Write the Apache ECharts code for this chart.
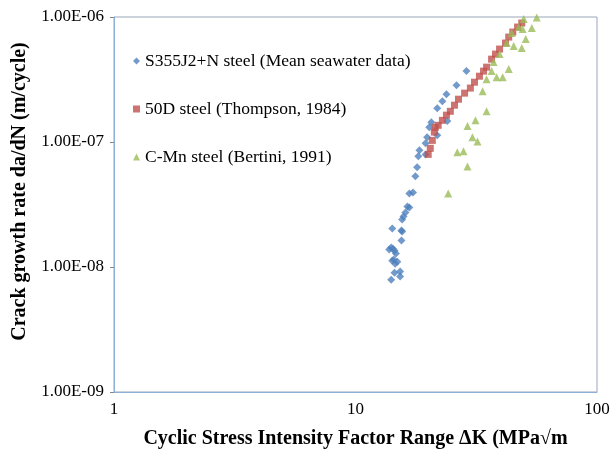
<!DOCTYPE html>
<html><head><meta charset="utf-8">
<script src="https://cdn.jsdelivr.net/npm/echarts@6/dist/echarts.min.js"></script>
<style>html,body{margin:0;padding:0;background:#fff}#c{width:612px;height:449px}</style>
</head><body><div id="c"></div>
<script>
const seriesNames = ['S355J2+N steel (Mean seawater data)', '50D steel (Thompson, 1984)', 'C-Mn steel (Bertini, 1991)'];
const s355 = [[28.8,3.69e-7],[26.2,2.85e-7],[23.8,2.41e-7],[22.9,2.12e-7],[21.8,1.86e-7],[20.6,1.44e-7],[24.0,1.47e-7],[20.2,1.31e-7],[19.8,1.09e-7],[21.8,1.13e-7],[19.5,9.76e-8],[18.4,8.58e-8],[18.2,7.68e-8],[19.5,7.96e-8],[18.0,6.27e-8],[17.7,5.31e-8],[16.7,3.88e-8],[17.3,3.95e-8],[16.4,3.05e-8],[16.7,2.99e-8],[16.1,2.73e-8],[15.8,2.54e-8],[15.6,2.40e-8],[14.2,2.03e-8],[15.5,1.96e-8],[15.6,1.92e-8],[15.5,1.63e-8],[14.05,1.43e-8],[13.8,1.38e-8],[14.5,1.35e-8],[14.7,1.28e-8],[14.2,1.12e-8],[14.9,1.10e-8],[14.6,1.06e-8],[14.4,1.15e-8],[14.3,1.40e-8],[14.5,9.0e-9],[15.3,9.2e-9],[15.3,8.4e-9],[14.05,7.9e-9]];
const d50 = [[20.0,7.96e-8],[20.4,8.90e-8],[20.8,1.03e-7],[21.2,1.20e-7],[21.4,1.31e-7],[22.0,1.36e-7],[22.9,1.49e-7],[23.8,1.64e-7],[24.7,1.76e-7],[25.7,1.97e-7],[26.7,2.20e-7],[28.3,2.46e-7],[29.9,2.70e-7],[31.1,3.01e-7],[32.6,3.36e-7],[33.9,3.69e-7],[34.9,3.97e-7],[36.6,4.60e-7],[38.0,5.05e-7],[39.5,5.54e-7],[41.8,6.19e-7],[43.1,6.91e-7],[44.8,7.58e-7],[46.9,8.31e-7],[48.8,8.95e-7]];
const cmn = [[56.3,9.9e-7],[49.7,9.64e-7],[47.4,8.31e-7],[49.2,8.01e-7],[53.7,8.16e-7],[44.3,7.44e-7],[50.7,6.66e-7],[42.3,6.19e-7],[45.2,5.85e-7],[48.8,5.64e-7],[39.5,5.05e-7],[37.3,4.36e-7],[43.1,3.83e-7],[36.6,3.69e-7],[38.4,3.30e-7],[40.7,3.30e-7],[34.9,3.18e-7],[33.6,2.55e-7],[34.9,1.76e-7],[31.4,1.49e-7],[29.1,1.34e-7],[30.5,1.09e-7],[32.0,1.01e-7],[26.4,8.27e-8],[28.0,8.42e-8],[29.1,6.38e-8],[24.2,3.88e-8]];
const xTitle = 'Cyclic Stress Intensity Factor Range \u0394K (MPa\u221Am';
const yTitle = 'Crack growth rate da/dN (m/cycle)';

function fmtE(v){
  const e = Math.round(Math.log10(v));
  const m = v / Math.pow(10, e);
  const s = e < 0 ? '-' : '+';
  const a = Math.abs(e);
  return m.toFixed(2) + 'E' + s + (a < 10 ? '0' + a : a);
}
const font = 'Liberation Serif';
const axisColor = '#8EAFD6';
const chart = echarts.init(document.getElementById('c'));
chart.setOption({
  animation: false,
  textStyle: {fontFamily: font},
  grid: {left: 114, right: 15, top: 17, bottom: 57, show: true, borderColor: '#9AA7B8', borderWidth: 1, containLabel: false, outerBoundsMode: 'none'},
  legend: {
    orient: 'vertical', left: 128, top: 47, itemGap: 30, itemWidth: 7, itemHeight: 7,
    textStyle: {fontFamily: font, fontSize: 17.5, color: '#000'},
    data: seriesNames
  },
  xAxis: {
    type: 'log', logBase: 10, min: 1, max: 100,
    name: xTitle, nameLocation: 'middle', nameGap: 37,
    nameTextStyle: {fontFamily: font, fontSize: 20, fontWeight: 'bold', color: '#000'},
    axisLine: {lineStyle: {color: axisColor, width: 1}},
    axisTick: {show: false},
    axisLabel: {fontFamily: font, fontSize: 17, color: '#000', margin: 9},
    splitLine: {show: false}, minorTick: {show: false}
  },
  yAxis: {
    type: 'log', logBase: 10, min: 1e-9, max: 1e-6,
    name: yTitle, nameLocation: 'middle', nameGap: 80,
    nameTextStyle: {fontFamily: font, fontSize: 20, fontWeight: 'bold', color: '#000', padding: [0, 0, 0, 26]},
    axisLine: {lineStyle: {color: axisColor, width: 1}},
    axisTick: {show: true, inside: false, length: 4, lineStyle: {color: '#888'}},
    axisLabel: {fontFamily: font, fontSize: 17, color: '#000', margin: 10, formatter: fmtE},
    splitLine: {show: false}
  },
  series: [
    {name: seriesNames[0], type: 'scatter', data: s355, symbol: 'diamond', symbolSize: 8, itemStyle: {color: '#4F81BD'}},
    {name: seriesNames[1], type: 'scatter', data: d50, symbol: 'rect', symbolSize: 7, itemStyle: {color: '#C0504D'}},
    {name: seriesNames[2], type: 'scatter', data: cmn, symbol: 'triangle', symbolSize: 8, itemStyle: {color: '#9BBB59'}}
  ]
});
</script></body></html>
